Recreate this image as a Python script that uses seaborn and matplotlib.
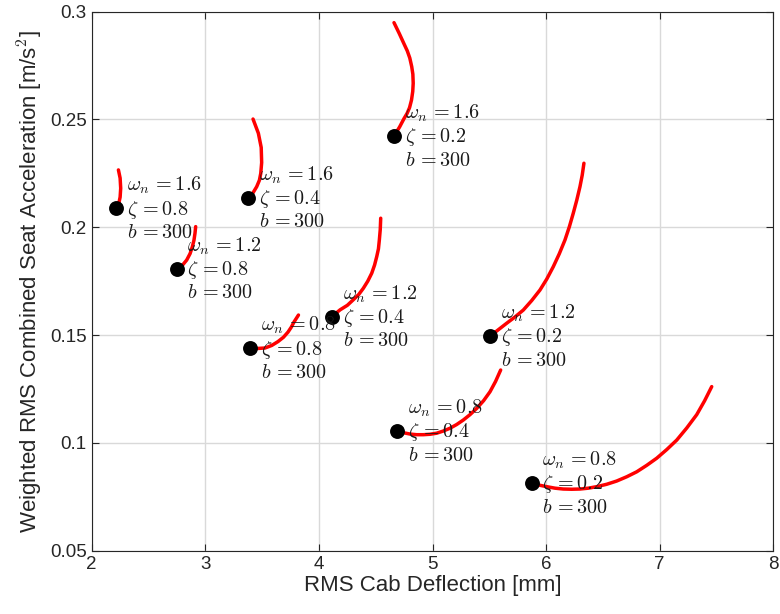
import matplotlib
matplotlib.use("Agg")
import matplotlib.pyplot as plt
import seaborn as sns
import pandas as pd

# Suspension parameter sets (b = 300 for every case)
omega_n = [1.6, 1.2, 1.6, 1.6, 1.2, 0.8, 0.8, 1.2, 0.8]
zeta = [0.8, 0.8, 0.4, 0.2, 0.4, 0.8, 0.4, 0.2, 0.2]
b_val = [300, 300, 300, 300, 300, 300, 300, 300, 300]

# Trade-off curves: RMS cab deflection [mm] vs weighted RMS seat acceleration [m/s^2]
# (first point of each curve is the b = 300 design point)
c1_x = [2.215, 2.238, 2.250, 2.255, 2.250, 2.235]
c1_y = [0.2088, 0.2110, 0.2140, 0.2181, 0.2228, 0.2266]

c2_x = [2.748, 2.800, 2.836, 2.866, 2.886, 2.900, 2.909, 2.915]
c2_y = [0.1807, 0.1825, 0.1848, 0.1878, 0.1910, 0.1940, 0.1972, 0.2003]

c3_x = [3.376, 3.420, 3.452, 3.476, 3.488, 3.496, 3.492, 3.467, 3.420]
c3_y = [0.2137, 0.2160, 0.2188, 0.2218, 0.2250, 0.2300, 0.2370, 0.2436, 0.2502]

c4_x = [4.661, 4.710, 4.749, 4.776, 4.798, 4.815, 4.826, 4.830, 4.827, 4.817, 4.800, 4.778, 4.748, 4.708, 4.661]
c4_y = [0.2423, 0.2465, 0.2504, 0.2528, 0.2555, 0.2590, 0.2630, 0.2668, 0.2710, 0.2745, 0.2785, 0.2818, 0.2852, 0.2898, 0.2949]

c5_x = [4.113, 4.186, 4.250, 4.303, 4.350, 4.391, 4.430, 4.465, 4.490, 4.509, 4.524, 4.532, 4.540, 4.544]
c5_y = [0.1585, 0.1617, 0.1638, 0.1664, 0.1688, 0.1717, 0.1750, 0.1787, 0.1825, 0.1864, 0.1900, 0.1941, 0.1990, 0.2042]

c6_x = [3.396, 3.460, 3.525, 3.585, 3.640, 3.688, 3.728, 3.757, 3.781, 3.820]
c6_y = [0.1438, 0.1438, 0.1440, 0.1452, 0.1470, 0.1490, 0.1514, 0.1537, 0.1561, 0.1593]

c7_x = [4.690, 4.745, 4.802, 4.860, 4.919, 4.978, 5.037, 5.095, 5.154, 5.212, 5.271, 5.330, 5.389, 5.450, 5.506, 5.555, 5.600]
c7_y = [0.1055, 0.1047, 0.1041, 0.1038, 0.1038, 0.1040, 0.1045, 0.1055, 0.1068, 0.1085, 0.1106, 0.1131, 0.1160, 0.1196, 0.1237, 0.1285, 0.1338]

c8_x = [5.506, 5.580, 5.653, 5.726, 5.799, 5.873, 5.946, 6.006, 6.063, 6.116, 6.166, 6.205, 6.239, 6.270, 6.298, 6.318, 6.333]
c8_y = [0.1495, 0.1525, 0.1555, 0.1584, 0.1616, 0.1660, 0.1709, 0.1760, 0.1817, 0.1877, 0.1941, 0.2003, 0.2065, 0.2126, 0.2188, 0.2242, 0.2297]

c9_x = [5.873, 5.940, 6.005, 6.078, 6.151, 6.225, 6.298, 6.372, 6.445, 6.533, 6.621, 6.710, 6.798, 6.886, 6.974, 7.062, 7.150, 7.238, 7.326, 7.395, 7.458]
c9_y = [0.0813, 0.0804, 0.0797, 0.0790, 0.0786, 0.0785, 0.0786, 0.0790, 0.0797, 0.0808, 0.0823, 0.0843, 0.0866, 0.0896, 0.0929, 0.0969, 0.1013, 0.1069, 0.1131, 0.1195, 0.1261]

curves_x = [c1_x, c2_x, c3_x, c4_x, c5_x, c6_x, c7_x, c8_x, c9_x]
curves_y = [c1_y, c2_y, c3_y, c4_y, c5_y, c6_y, c7_y, c8_y, c9_y]

x_ticks = [2, 3, 4, 5, 6, 7, 8]
y_ticks = [0.05, 0.1, 0.15, 0.2, 0.25, 0.3]
y_tick_labels = ["0.05", "0.1", "0.15", "0.2", "0.25", "0.3"]

sns.set_theme(style="whitegrid")
plt.rcParams["font.family"] = ["Liberation Sans", "DejaVu Sans"]
plt.rcParams["mathtext.fontset"] = "cm"

axis_col = "#262626"

fig = plt.figure(figsize=(7.8, 6.14), dpi=100)
ax = fig.add_axes([0.1176, 0.1031, 0.8738, 0.8779])
ax.set_facecolor("white")

for cx, cy in zip(curves_x, curves_y):
    df = pd.DataFrame({"x": cx, "y": cy})
    sns.lineplot(data=df, x="x", y="y", sort=False, estimator=None,
                 color="#ff0000", linewidth=2.5, ax=ax, zorder=3)

dots = pd.DataFrame({"x": [c[0] for c in curves_x], "y": [c[0] for c in curves_y]})
sns.scatterplot(data=dots, x="x", y="y", color="black", s=115,
                edgecolor="black", linewidth=0, ax=ax, zorder=4)

for i in range(len(omega_n)):
    label = (r"$\omega_n\,{=}%s$" % omega_n[i] + "\n"
             + r"$\zeta\,{=}%s$" % zeta[i] + "\n"
             + r"$b\,{=}%d$" % b_val[i])
    ax.text(dots["x"][i] + 0.095, dots["y"][i], label, ha="left", va="center",
            fontsize=14.5, color="#1a1a1a", linespacing=1.15, zorder=5)

ax.set_xlim(2, 8)
ax.set_ylim(0.05, 0.3)
ax.set_xticks(x_ticks)
ax.set_yticks(y_ticks)
ax.set_yticklabels(y_tick_labels)
ax.set_xlabel("RMS Cab Deflection [mm]", fontsize=16, color=axis_col, labelpad=2)
ax.set_ylabel(r"Weighted RMS Combined Seat Acceleration [m/s$^2$]",
              fontsize=16, color=axis_col, labelpad=4)

ax.grid(True, color="#d9d9d9", linewidth=1.0)
ax.tick_params(direction="in", length=5, width=0.8, colors=axis_col,
               labelsize=13.5, top=True, right=True, bottom=True, left=True)
for side in ax.spines.values():
    side.set_color(axis_col)
    side.set_linewidth(0.8)

fig.savefig("out.png", dpi=100)
